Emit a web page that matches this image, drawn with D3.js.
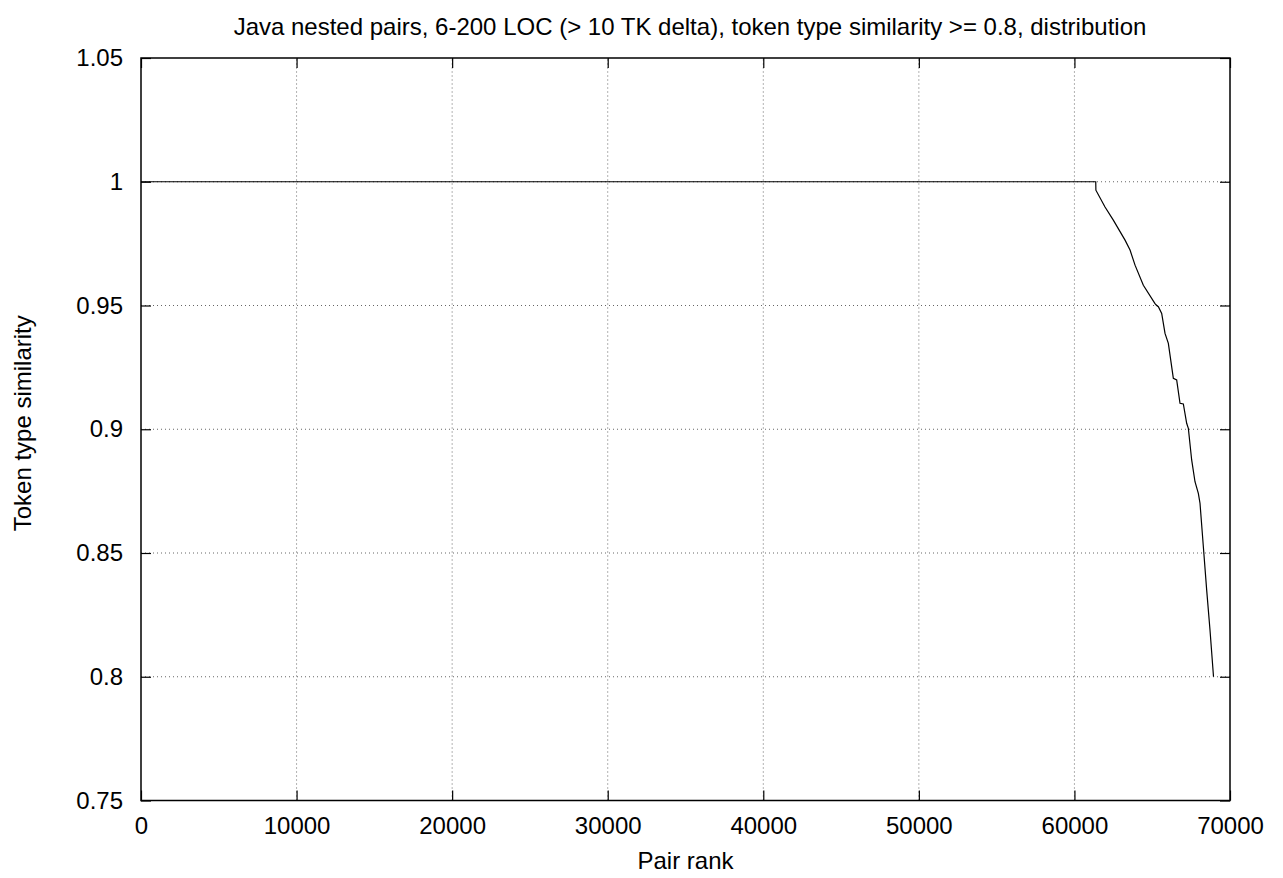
<!DOCTYPE html>
<html>
<head>
<meta charset="utf-8">
<script src="https://cdn.jsdelivr.net/npm/d3@7"></script>
<style>
  html, body { margin: 0; padding: 0; background: #fff; }
  svg { display: block; font-family: "Liberation Sans", Arial, sans-serif; }
</style>
</head>
<body>
<svg id="chart" width="1283" height="878"></svg>
<script>
// ---- data ----
const titleText = "Java nested pairs, 6-200 LOC (> 10 TK delta), token type similarity >= 0.8, distribution";
const xLabel = "Pair rank";
const yLabel = "Token type similarity";
const xTicks = [0, 10000, 20000, 30000, 40000, 50000, 60000, 70000];
const yTicks = [0.75, 0.8, 0.85, 0.9, 0.95, 1, 1.05];
const pairRank = [1, 61370, 61380, 61966, 62500, 63254, 63575, 63896, 64430, 65180, 65288, 65395, 65609, 65823, 66037, 66358, 66572, 66787, 67001, 67215, 67322, 67536, 67750, 67965, 68072, 68286, 68500, 68714, 68940];
const similarity = [1, 1, 0.9966, 0.9898, 0.9845, 0.9764, 0.9724, 0.9663, 0.9582, 0.9508, 0.95, 0.9495, 0.9468, 0.9387, 0.9347, 0.9206, 0.9199, 0.9105, 0.9102, 0.9024, 0.9004, 0.8876, 0.8788, 0.8741, 0.8701, 0.8526, 0.8351, 0.8189, 0.8];

// ---- layout ----
const L = 141, R = 1230, T = 58, B = 800.5;
const svg = d3.select("#chart");
const x = d3.scaleLinear().domain([0, 70000]).range([L, R]);
const y = d3.scaleLinear().domain([0.75, 1.05]).range([B, T]);
const fs = 24;

// grid
const grid = svg.append("g");
grid.selectAll("line.gx").data(xTicks.slice(1, -1)).enter().append("line")
  .attr("x1", d => x(d)).attr("x2", d => x(d)).attr("y1", B).attr("y2", T)
  .attr("stroke", "#666").attr("stroke-width", 1).attr("stroke-dasharray", "1,3");
grid.selectAll("line.gy").data(yTicks.slice(1, -1)).enter().append("line")
  .attr("y1", d => y(d)).attr("y2", d => y(d)).attr("x1", L).attr("x2", R)
  .attr("stroke", "#666").attr("stroke-width", 1).attr("stroke-dasharray", "1,3");

// axes (ticks inward, mirrored)
const tickLen = 10;
const xAxisB = d3.axisBottom(x).tickValues(xTicks).tickFormat(d3.format("d")).tickSize(-tickLen).tickPadding(16.5);
const xAxisT = d3.axisTop(x).tickValues(xTicks).tickFormat("").tickSize(-tickLen);
const yAxisL = d3.axisLeft(y).tickValues(yTicks).tickFormat(d => d === 1 ? "1" : String(d)).tickSize(-tickLen).tickPadding(18);
const yAxisR = d3.axisRight(y).tickValues(yTicks).tickFormat("").tickSize(-tickLen);

function styleAxis(g) {
  g.select(".domain").remove();
  g.selectAll("line").attr("stroke", "#000").attr("stroke-width", 1.2);
  g.selectAll("text").attr("fill", "#000").style("font-size", fs + "px").style("font-family", '"Liberation Sans", Arial, sans-serif');
}
svg.append("g").attr("transform", `translate(0,${B})`).call(xAxisB).call(styleAxis);
svg.append("g").attr("transform", `translate(0,${T})`).call(xAxisT).call(styleAxis);
svg.append("g").attr("transform", `translate(${L},0)`).call(yAxisL).call(styleAxis);
svg.append("g").attr("transform", `translate(${R},0)`).call(yAxisR).call(styleAxis);

// border
svg.append("rect").attr("x", L).attr("y", T).attr("width", R - L).attr("height", B - T)
  .attr("fill", "none").attr("stroke", "#000").attr("stroke-width", 1.5);

// data line
const pts = pairRank.map((r, i) => [r, similarity[i]]);
svg.append("path").datum(pts)
  .attr("fill", "none").attr("stroke", "#000").attr("stroke-width", 1.2)
  .attr("d", d3.line().x(d => x(d[0])).y(d => y(d[1])));

// labels
svg.append("text").attr("x", 690).attr("y", 35).attr("text-anchor", "middle")
  .style("font-size", fs + "px").text(titleText);
svg.append("text").attr("x", (L + R) / 2).attr("y", 869).attr("text-anchor", "middle")
  .style("font-size", fs + "px").text(xLabel);
svg.append("text").attr("transform", `translate(31,${(T + B) / 2 - 6}) rotate(-90)`).attr("text-anchor", "middle")
  .style("font-size", fs + "px").text(yLabel);
</script>
</body>
</html>
